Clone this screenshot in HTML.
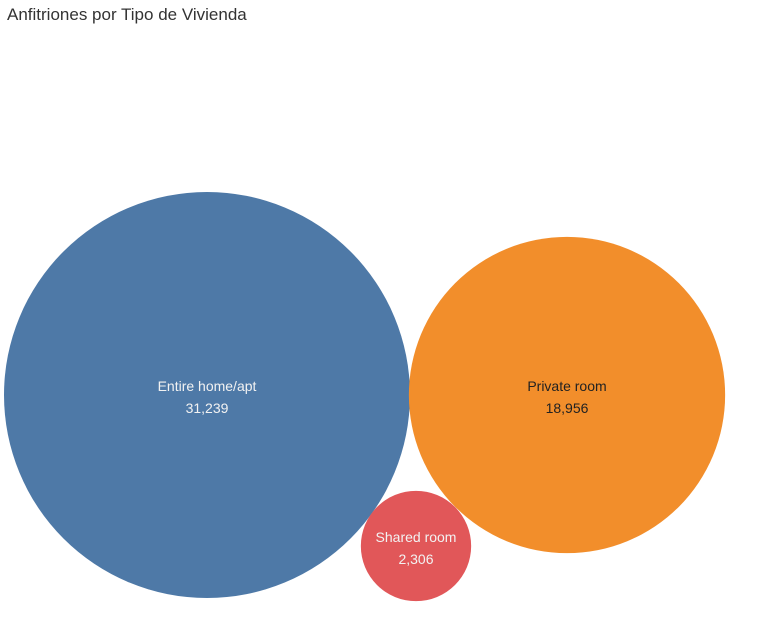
<!DOCTYPE html>
<html><head><meta charset="utf-8"><style>
body{margin:0;background:#fff;width:758px;height:622px;overflow:hidden;font-family:"Liberation Sans",sans-serif}
#title{position:absolute;left:7px;top:5px;font-size:17px;color:#333}
</style></head><body>
<div id="title">Anfitriones por Tipo de Vivienda</div>
<svg id="chart" width="758" height="622" style="position:absolute;left:0;top:0"></svg>
<script>
const categories=["Entire home/apt","Private room","Shared room"];
const values=[31239,18956,2306];
const colors=["#4e79a7","#f28e2b","#e15759"];
const textColors=["#f2f2f2","#222222","#f2f2f2"];
const centers=[[207,395],[567,395],[416,546]];
const svg=document.getElementById('chart');
const NS='http://www.w3.org/2000/svg';
const k=203/Math.sqrt(Math.max(...values));
function rScale(v){return k*Math.sqrt(v);}
values.forEach((v,i)=>{
  const c=document.createElementNS(NS,'circle');
  c.setAttribute('cx',centers[i][0]);c.setAttribute('cy',centers[i][1]);
  c.setAttribute('r',rScale(v));c.setAttribute('fill',colors[i]);
  
  
  svg.appendChild(c);
  [[categories[i],-4],[v.toLocaleString('en-US'),18]].forEach(([t,dy],j)=>{
    const tx=document.createElementNS(NS,'text');
    tx.setAttribute('x',centers[i][0]);tx.setAttribute('y',centers[i][1]+dy);
    tx.setAttribute('text-anchor','middle');tx.setAttribute('font-size','14');
    tx.setAttribute('fill',textColors[i]);
    tx.setAttribute('font-family','Liberation Sans, sans-serif');
    tx.textContent=t;
    
    
    svg.appendChild(tx);
  });
});
</script>
</body></html>
